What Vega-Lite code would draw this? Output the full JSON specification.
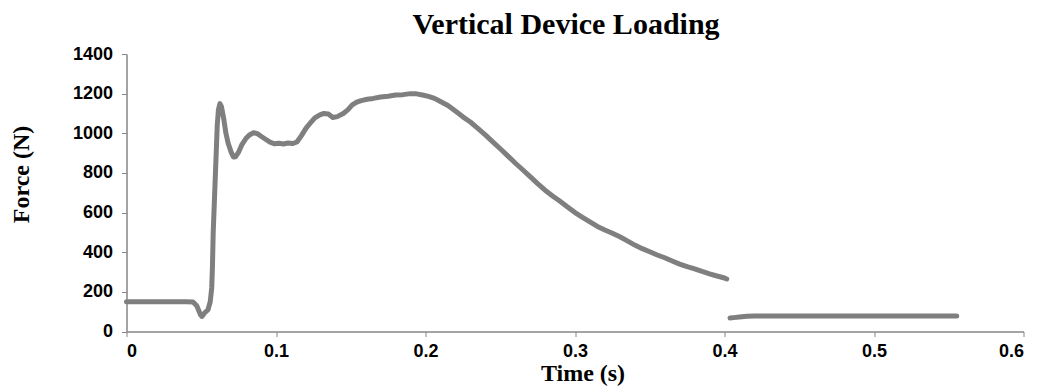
{
  "$schema": "https://vega.github.io/schema/vega-lite/v6.json",
  "autosize": "none",
  "width": 897,
  "height": 277.5,
  "padding": {"left": 126.5, "top": 54, "right": 18.5, "bottom": 60.5},
  "background": "white",
  "title": {
    "text": "Vertical Device Loading",
    "font": "Liberation Serif",
    "fontSize": 30,
    "fontWeight": "bold",
    "color": "#000000",
    "frame": "group",
    "anchor": "middle",
    "baseline": "alphabetic",
    "offset": -19,
    "dx": -9
  },
  "data": {
    "values": [
      {"t": 0.000, "force": 150, "seg": 1},
      {"t": 0.010, "force": 150, "seg": 1},
      {"t": 0.020, "force": 150, "seg": 1},
      {"t": 0.030, "force": 150, "seg": 1},
      {"t": 0.040, "force": 150, "seg": 1},
      {"t": 0.0445, "force": 149, "seg": 1},
      {"t": 0.047, "force": 130, "seg": 1},
      {"t": 0.0495, "force": 84, "seg": 1},
      {"t": 0.0505, "force": 76, "seg": 1},
      {"t": 0.052, "force": 92, "seg": 1},
      {"t": 0.0545, "force": 110, "seg": 1},
      {"t": 0.056, "force": 150, "seg": 1},
      {"t": 0.057, "force": 220, "seg": 1},
      {"t": 0.0575, "force": 330, "seg": 1},
      {"t": 0.058, "force": 500, "seg": 1},
      {"t": 0.059, "force": 700, "seg": 1},
      {"t": 0.060, "force": 900, "seg": 1},
      {"t": 0.0607, "force": 1040, "seg": 1},
      {"t": 0.0615, "force": 1120, "seg": 1},
      {"t": 0.0625, "force": 1150, "seg": 1},
      {"t": 0.0635, "force": 1135, "seg": 1},
      {"t": 0.065, "force": 1075, "seg": 1},
      {"t": 0.0665, "force": 1000, "seg": 1},
      {"t": 0.068, "force": 950, "seg": 1},
      {"t": 0.070, "force": 905, "seg": 1},
      {"t": 0.0715, "force": 880, "seg": 1},
      {"t": 0.073, "force": 882, "seg": 1},
      {"t": 0.075, "force": 905, "seg": 1},
      {"t": 0.077, "force": 940, "seg": 1},
      {"t": 0.080, "force": 975, "seg": 1},
      {"t": 0.0825, "force": 993, "seg": 1},
      {"t": 0.085, "force": 1003, "seg": 1},
      {"t": 0.0875, "force": 998, "seg": 1},
      {"t": 0.090, "force": 985, "seg": 1},
      {"t": 0.093, "force": 970, "seg": 1},
      {"t": 0.096, "force": 955, "seg": 1},
      {"t": 0.099, "force": 947, "seg": 1},
      {"t": 0.102, "force": 950, "seg": 1},
      {"t": 0.105, "force": 946, "seg": 1},
      {"t": 0.108, "force": 951, "seg": 1},
      {"t": 0.111, "force": 948, "seg": 1},
      {"t": 0.114, "force": 956, "seg": 1},
      {"t": 0.117, "force": 988, "seg": 1},
      {"t": 0.120, "force": 1025, "seg": 1},
      {"t": 0.123, "force": 1052, "seg": 1},
      {"t": 0.126, "force": 1078, "seg": 1},
      {"t": 0.129, "force": 1092, "seg": 1},
      {"t": 0.132, "force": 1100, "seg": 1},
      {"t": 0.135, "force": 1097, "seg": 1},
      {"t": 0.138, "force": 1080, "seg": 1},
      {"t": 0.141, "force": 1084, "seg": 1},
      {"t": 0.145, "force": 1100, "seg": 1},
      {"t": 0.148, "force": 1118, "seg": 1},
      {"t": 0.151, "force": 1143, "seg": 1},
      {"t": 0.154, "force": 1157, "seg": 1},
      {"t": 0.157, "force": 1165, "seg": 1},
      {"t": 0.161, "force": 1172, "seg": 1},
      {"t": 0.165, "force": 1176, "seg": 1},
      {"t": 0.170, "force": 1183, "seg": 1},
      {"t": 0.175, "force": 1187, "seg": 1},
      {"t": 0.180, "force": 1193, "seg": 1},
      {"t": 0.185, "force": 1195, "seg": 1},
      {"t": 0.190, "force": 1200, "seg": 1},
      {"t": 0.194, "force": 1199, "seg": 1},
      {"t": 0.198, "force": 1193, "seg": 1},
      {"t": 0.202, "force": 1186, "seg": 1},
      {"t": 0.206, "force": 1176, "seg": 1},
      {"t": 0.210, "force": 1160, "seg": 1},
      {"t": 0.215, "force": 1140, "seg": 1},
      {"t": 0.220, "force": 1112, "seg": 1},
      {"t": 0.225, "force": 1083, "seg": 1},
      {"t": 0.230, "force": 1057, "seg": 1},
      {"t": 0.235, "force": 1025, "seg": 1},
      {"t": 0.240, "force": 992, "seg": 1},
      {"t": 0.245, "force": 957, "seg": 1},
      {"t": 0.250, "force": 922, "seg": 1},
      {"t": 0.255, "force": 886, "seg": 1},
      {"t": 0.260, "force": 850, "seg": 1},
      {"t": 0.265, "force": 816, "seg": 1},
      {"t": 0.270, "force": 781, "seg": 1},
      {"t": 0.275, "force": 746, "seg": 1},
      {"t": 0.280, "force": 713, "seg": 1},
      {"t": 0.285, "force": 684, "seg": 1},
      {"t": 0.290, "force": 657, "seg": 1},
      {"t": 0.295, "force": 628, "seg": 1},
      {"t": 0.300, "force": 600, "seg": 1},
      {"t": 0.305, "force": 576, "seg": 1},
      {"t": 0.310, "force": 553, "seg": 1},
      {"t": 0.315, "force": 530, "seg": 1},
      {"t": 0.320, "force": 512, "seg": 1},
      {"t": 0.325, "force": 496, "seg": 1},
      {"t": 0.330, "force": 478, "seg": 1},
      {"t": 0.335, "force": 457, "seg": 1},
      {"t": 0.340, "force": 436, "seg": 1},
      {"t": 0.345, "force": 418, "seg": 1},
      {"t": 0.350, "force": 402, "seg": 1},
      {"t": 0.355, "force": 386, "seg": 1},
      {"t": 0.360, "force": 372, "seg": 1},
      {"t": 0.365, "force": 356, "seg": 1},
      {"t": 0.370, "force": 340, "seg": 1},
      {"t": 0.375, "force": 327, "seg": 1},
      {"t": 0.380, "force": 316, "seg": 1},
      {"t": 0.385, "force": 303, "seg": 1},
      {"t": 0.390, "force": 291, "seg": 1},
      {"t": 0.395, "force": 280, "seg": 1},
      {"t": 0.400, "force": 270, "seg": 1},
      {"t": 0.4015, "force": 265, "seg": 1},
      {"t": 0.4037, "force": 68, "seg": 2},
      {"t": 0.406, "force": 70, "seg": 2},
      {"t": 0.410, "force": 73, "seg": 2},
      {"t": 0.415, "force": 77, "seg": 2},
      {"t": 0.420, "force": 78, "seg": 2},
      {"t": 0.450, "force": 78, "seg": 2},
      {"t": 0.500, "force": 78, "seg": 2},
      {"t": 0.5553, "force": 78, "seg": 2}
    ]
  },
  "mark": {
    "type": "line",
    "color": "#7f7f7f",
    "strokeWidth": 5,
    "strokeCap": "round",
    "strokeJoin": "round"
  },
  "encoding": {
    "x": {
      "field": "t",
      "type": "quantitative",
      "scale": {"domain": [0, 0.6], "nice": false, "zero": false},
      "axis": {
        "title": "Time (s)",
        "values": [0, 0.1, 0.2, 0.3, 0.4, 0.5, 0.6],
        "format": ".1~f",
        "grid": false,
        "domainColor": "#868686",
        "domainWidth": 1.5,
        "tickColor": "#868686",
        "tickSize": 5,
        "tickWidth": 1,
        "labelFont": "Liberation Sans",
        "labelFontSize": 18,
        "labelFontWeight": "bold",
        "labelColor": "#000000",
        "labelPadding": 6,
        "titleFont": "Liberation Serif",
        "titleFontSize": 24,
        "titleFontWeight": "bold",
        "titleColor": "#000000",
        "titlePadding": 1,
        "titleX": 456
      }
    },
    "y": {
      "field": "force",
      "type": "quantitative",
      "scale": {"domain": [0, 1400], "nice": false},
      "axis": {
        "title": "Force (N)",
        "values": [0, 200, 400, 600, 800, 1000, 1200, 1400],
        "format": "d",
        "grid": false,
        "domainColor": "#868686",
        "domainWidth": 1.5,
        "tickColor": "#868686",
        "tickSize": 5,
        "tickWidth": 1,
        "labelFont": "Liberation Sans",
        "labelFontSize": 18,
        "labelFontWeight": "bold",
        "labelColor": "#000000",
        "labelPadding": 9,
        "titleFont": "Liberation Serif",
        "titleFontSize": 24,
        "titleFontWeight": "bold",
        "titleColor": "#000000",
        "titlePadding": 39,
        "titleY": 120
      }
    },
    "detail": {"field": "seg", "type": "nominal"}
  },
  "config": {"view": {"stroke": null}}
}
